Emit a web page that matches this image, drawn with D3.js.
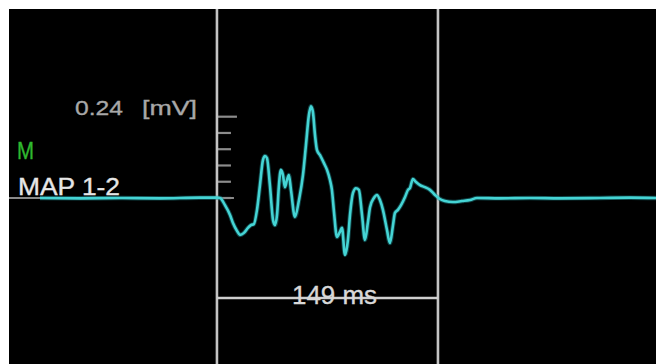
<!DOCTYPE html>
<html>
<head>
<meta charset="utf-8">
<script src="https://cdn.jsdelivr.net/npm/d3@7"></script>
<style>
  html, body { margin: 0; padding: 0; background: #fff; overflow: hidden; }
  text { font-family: "Liberation Sans", Arial, sans-serif; }
</style>
</head>
<body>
<svg id="chart" width="656" height="364"></svg>
<script>
// Bipolar mapping electrogram, MAP 1-2 (time in ms relative to window onset, amplitude in mV)
const timeMs = [
  -119.3, -92.4, -65.4, -38.4, -11.5, 0, 2.0, 5.4, 8.8, 10.8, 13.5, 15.5, 18.2, 20.9, 22.9, 24.9,
  27.0, 29.0, 31.0, 32.4, 33.7, 35.7, 37.8, 39.1, 40.5, 41.8, 43.1, 44.5, 45.8, 47.2, 48.5, 49.9,
  52.6, 55.3, 58.0, 60.0, 62.0, 63.4, 64.7, 66.1, 67.4, 69.4, 72.1, 74.2, 76.2, 77.5, 78.9, 80.9,
  82.9, 84.3, 86.3, 88.3, 89.7, 91.7, 93.7, 95.7, 97.8, 99.8, 101.8, 103.2, 105.8, 107.9, 109.9,
  111.9, 114.6, 116.6, 118.7, 120.0, 122.0, 124.1, 126.8, 128.8, 130.1, 132.1, 134.2, 136.9, 140.2,
  143.6, 147.0, 150.3, 153.7, 159.1, 165.2, 170.6, 175.3, 190.8, 211.0, 231.3, 258.2, 278.4, 296.0
];
const amplitudeMv = [
  0, -0.001, 0, -0.001, 0.001, 0.001, 0, -0.021, -0.050, -0.074, -0.097, -0.109, -0.103, -0.088, -0.080, -0.077,
  -0.035, 0.038, 0.112, 0.124, 0.118, 0.038, -0.065, -0.080, -0.050, 0.038, 0.083, 0.068, 0.032, 0.053, 0.068, 0.024,
  -0.056, -0.006, 0.068, 0.156, 0.245, 0.271, 0.254, 0.186, 0.142, 0.127, 0.103, 0.083, 0.053, 0.024, -0.041, -0.115,
  -0.100, -0.088, -0.168, -0.124, -0.050, 0.015, 0.029, 0.024, -0.050, -0.124, -0.071, -0.027, 0, 0.009, -0.006,
  -0.035, -0.094, -0.133, -0.080, -0.044, -0.035, -0.021, 0.003, 0.024, 0.029, 0.056, 0.047, 0.038, 0.032,
  0.024, 0.009, -0.003, -0.009, -0.012, -0.009, -0.006, 0, -0.001, 0, -0.001, 0, 0.001, 0
];

// Measurement window (ms) and amplitude calibration bar
const windowMs = [0, 149];
const windowLabel = "149 ms";
const scaleMv = 0.24;
const scaleSteps = 5;
const scaleValueLabel = "0.24";
const scaleUnitLabel = "[mV]";
const mapFlag = "M";
const leadName = "MAP 1-2";

const W = 656, H = 364, frameLeft = 9, frameTop = 9;

const x = d3.scaleLinear().domain([-140.2, 296]).range([frameLeft, W]);
const y = d3.scaleLinear().domain([0, scaleMv]).range([198, 116.7]);

const svg = d3.select("#chart");

// black display area
svg.append("rect")
  .attr("x", frameLeft).attr("y", frameTop)
  .attr("width", W - frameLeft).attr("height", H - frameTop)
  .attr("fill", "#000");

// grey baseline reference on the left
svg.append("line")
  .attr("x1", frameLeft).attr("x2", x(windowMs[0]) + 17)
  .attr("y1", y(0)).attr("y2", y(0))
  .attr("stroke", "#8a8a8a").attr("stroke-width", 2);

// amplitude calibration ticks
const tickVals = d3.range(scaleSteps + 1).map(i => scaleMv * i / scaleSteps);
svg.append("g").selectAll("line")
  .data(tickVals)
  .join("line")
  .attr("x1", x(windowMs[0]))
  .attr("x2", d => x(windowMs[0]) + (d === scaleMv ? 20 : 14))
  .attr("y1", d => y(d)).attr("y2", d => y(d))
  .attr("stroke", "#8c8c8c").attr("stroke-width", 2.2);

// window boundaries
svg.append("g").selectAll("line")
  .data(windowMs)
  .join("line")
  .attr("x1", d => x(d)).attr("x2", d => x(d))
  .attr("y1", frameTop).attr("y2", H)
  .attr("stroke", "#c4c4c4").attr("stroke-width", 2.6);

// duration bar
svg.append("line")
  .attr("x1", x(windowMs[0])).attr("x2", x(windowMs[1]))
  .attr("y1", 298).attr("y2", 298)
  .attr("stroke", "#cfcfcf").attr("stroke-width", 2.6);

// electrogram trace
const pts = timeMs.map((t, i) => [t, amplitudeMv[i]]);
const line = d3.line().x(d => x(d[0])).y(d => y(d[1])).curve(d3.curveMonotoneX);

svg.append("path")
  .attr("d", line(pts))
  .attr("fill", "none")
  .attr("stroke", "#1f8f95").attr("stroke-width", 4.5).attr("stroke-opacity", 0.45)
  .attr("stroke-linejoin", "round");
svg.append("path")
  .attr("d", line(pts))
  .attr("fill", "none")
  .attr("stroke", "#45d4d4").attr("stroke-width", 2.6)
  .attr("stroke-linejoin", "round");

// labels
function label(txt, px, py, size, color, len) {
  const t = svg.append("text")
    .attr("x", px).attr("y", py)
    .attr("font-size", size)
    .attr("fill", color)
    .attr("stroke", color).attr("stroke-width", 0.35)
    .text(txt);
  if (len) t.attr("textLength", len).attr("lengthAdjust", "spacingAndGlyphs");
}
label(scaleValueLabel, 75, 115, 21, "#a8a8a8", 48);
label(scaleUnitLabel, 142, 115, 21, "#a8a8a8", 55);
label(mapFlag, 17, 159, 23, "#2fb82f", 17);
label(leadName, 18, 195, 23, "#e6e6e6", 102);
label(windowLabel, 292, 304, 25, "#d8d8d8", 85);
</script>
</body>
</html>
